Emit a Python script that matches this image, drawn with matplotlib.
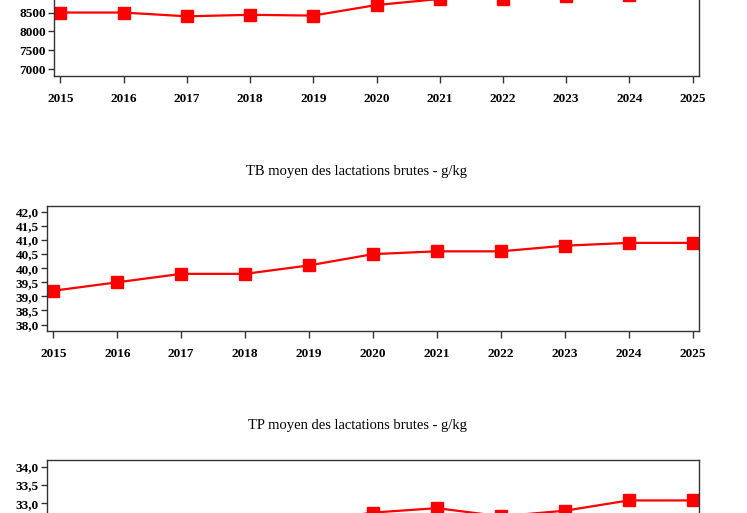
import matplotlib.pyplot as plt
import matplotlib.ticker as ticker

plt.rcParams['font.family'] = ['Liberation Serif', 'DejaVu Serif']

years = [2015, 2016, 2017, 2018, 2019, 2020, 2021, 2022, 2023, 2024, 2025]

# lait (haut, tronque dans l'image)
lait = [8500, 8500, 8400, 8440, 8420, 8700, 8860, 8860, 8930, 8975, 9050]
# TB moyen g/kg
tb = [39.2, 39.5, 39.8, 39.8, 40.1, 40.5, 40.6, 40.6, 40.8, 40.9, 40.9]
# TP moyen g/kg
tp = [32.2, 32.3, 32.4, 32.4, 32.5, 32.75, 32.87, 32.65, 32.8, 33.08, 33.08]

titles = ["TB moyen des lactations brutes - g/kg",
          "TP moyen des lactations brutes - g/kg"]

W, H = 747, 513
fig = plt.figure(figsize=(W / 100, H / 100), dpi=100)


def px_axes(left, top, right, bottom):
    return fig.add_axes([left / W, 1 - bottom / H, (right - left) / W, (bottom - top) / H])


def style(ax, vals, ylim, yticks, fmt, xlabels=True):
    ax.plot(years, vals, color='#ff0000', lw=1.6, marker='s', ms=9,
            mfc='#ff0000', mec='#ff0000')
    ax.set_xlim(2014.9, 2025.1)
    ax.set_ylim(*ylim)
    ax.set_xticks(years)
    ax.set_yticks(yticks)
    ax.yaxis.set_major_formatter(ticker.FuncFormatter(fmt))
    for s in ax.spines.values():
        s.set_color('#333333')
        s.set_linewidth(1.0)
    ax.tick_params(axis='x', direction='out', length=5, width=1, pad=7,
                   labelsize=9.5, color='#333333', labelbottom=xlabels)
    ax.tick_params(axis='y', direction='out', length=4, width=1, pad=2,
                   labelsize=9.5, color='#333333')
    for lab in ax.get_xticklabels() + ax.get_yticklabels():
        lab.set_fontweight('bold')


def fmt_int(v, p):
    return "%d" % v


def fmt_dec(v, p):
    return ("%.1f" % v).replace('.', ',')


ax1 = px_axes(54, -49, 699, 76)
style(ax1, lait, (6820, 10130), [7000, 7500, 8000, 8500], fmt_int)

ax2 = px_axes(47, 206, 699, 331)
style(ax2, tb, (37.77, 42.21), [38.0, 38.5, 39.0, 39.5, 40.0, 40.5, 41.0, 41.5, 42.0], fmt_dec)

ax3 = px_axes(47, 460, 699, 585)
style(ax3, tp, (30.78, 34.18), [33.0, 33.5, 34.0], fmt_dec, xlabels=False)

fig.text(357 / W, 1 - 172 / H, titles[0], ha='center', va='center', fontsize=10.5)
fig.text(357 / W, 1 - 425 / H, titles[1], ha='center', va='center', fontsize=10.5)

fig.savefig('out.png', dpi=100)
